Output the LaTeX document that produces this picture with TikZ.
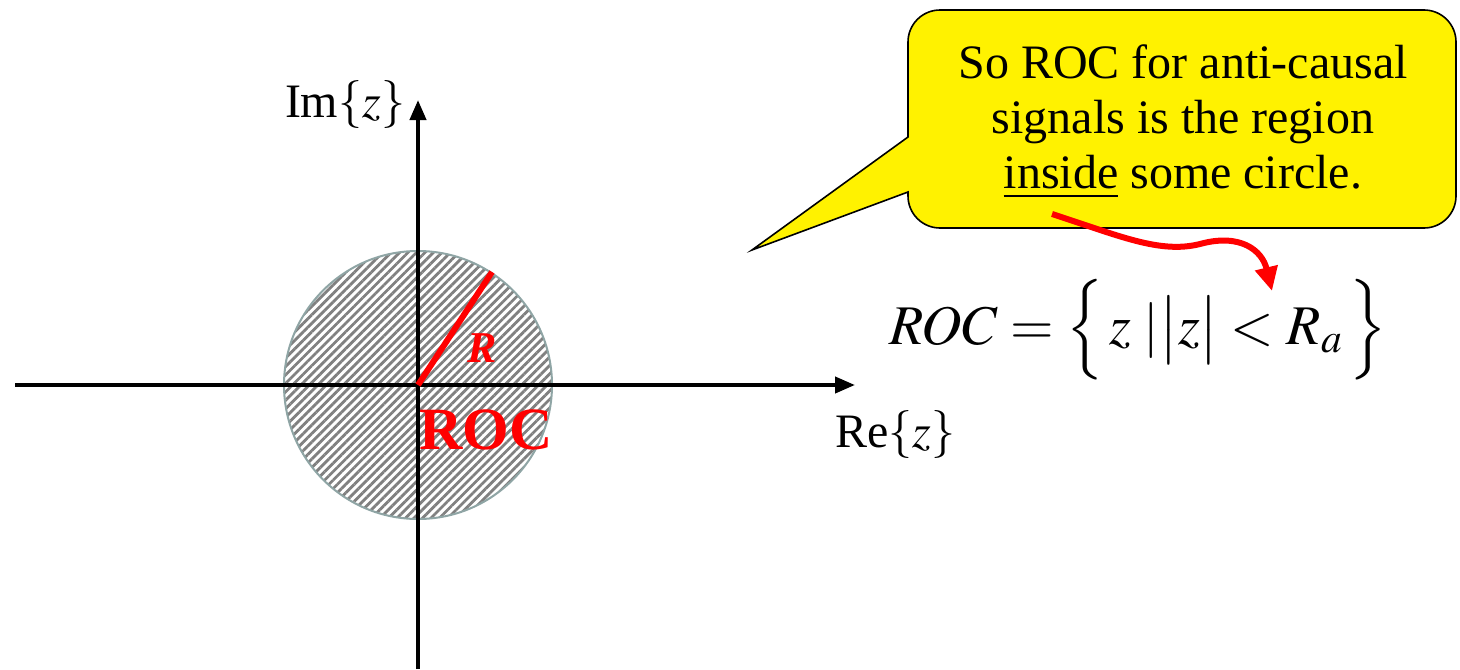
\documentclass[tikz,border=0pt]{standalone}
\usepackage{amsmath}
\usepackage{mathptmx}
\usepackage{fontspec}
\setmainfont{Liberation Serif}
\newfontfamily\timesfont{Liberation Serif}
\usetikzlibrary{arrows.meta,patterns.meta}

\definecolor{rimgray}{RGB}{143,165,165}
\definecolor{hatchgray}{RGB}{128,128,128}

\begin{document}
\begin{tikzpicture}[x=0.5pt,y=-0.5pt,
    axis/.style={line width=2pt,-{Triangle[length=10pt,width=8pt]}},
    rocdisk/.style={draw=rimgray,line width=1pt,
      pattern={Lines[angle=45,distance=3pt,line width=1.4pt]},pattern color=hatchgray},
    callout/.style={draw=black,line width=0.8pt,fill=yellow},
    pointer/.style={red,line width=3pt,-{Triangle[length=12pt,width=11pt]}}]
    \useasboundingbox (0,0) rectangle (1460,669);

    % z-plane
    \coordinate (O) at (418,385);
    \coordinate (xl) at (15,385);
    \coordinate (xr) at (855,385);
    \coordinate (yb) at (418,669);
    \coordinate (yt) at (418,100);
    \coordinate (Rend) at (492,272);
    \fill[white] (O) circle[radius=67pt];
    \draw[rocdisk] (O) circle[radius=67pt];
    \draw[axis] (xl) -- (xr);
    \draw[axis] (yb) -- (yt);
    \draw[red,line width=3pt] (O) -- (Rend);
    \node[red,font=\timesfont\fontsize{22}{26}\selectfont\bfseries\itshape] (Rlab) at (482,348) {R};
    \node[red,font=\timesfont\fontsize{30}{34}\selectfont\bfseries] (roclab) at (486,430) {ROC};
    \node[font=\timesfont\fontsize{24}{28}\selectfont] (imlab) at (345,105) {Im$\left\{z\right\}$};
    \node[font=\timesfont\fontsize{24}{28}\selectfont] (relab) at (895,435) {Re$\left\{z\right\}$};

    % callout
    \draw[callout] (908,192) -- (908,196) arc[start angle=180,end angle=270,radius=16pt]
      -- (1424,228) arc[start angle=270,end angle=360,radius=16pt]
      -- (1456,42) arc[start angle=0,end angle=90,radius=16pt]
      -- (940,10) arc[start angle=90,end angle=180,radius=16pt]
      -- (908,137) -- (752,250) -- cycle;
    \node[align=center,font=\timesfont\fontsize{24}{27.5}\selectfont] (note) at (1183,122)
      {So ROC for anti-causal\\signals is the region\\\underline{inside} some circle.};

    % formula
    \node[font=\fontsize{28}{32}\selectfont,inner sep=0pt] (rocset) at (1138,330)
      {$ROC=\Bigl\{\,z\;|\bigl|z\bigr|<R_a\,\Bigr\}$};
    \coordinate (from) at (1052,214);
    \coordinate (to) at (1272,291);
    \draw[pointer] (from) .. controls (1120,236) and (1160,254) .. (1200,244)
      .. controls (1240,233) and (1262,250) .. (to);
\end{tikzpicture}
\end{document}
